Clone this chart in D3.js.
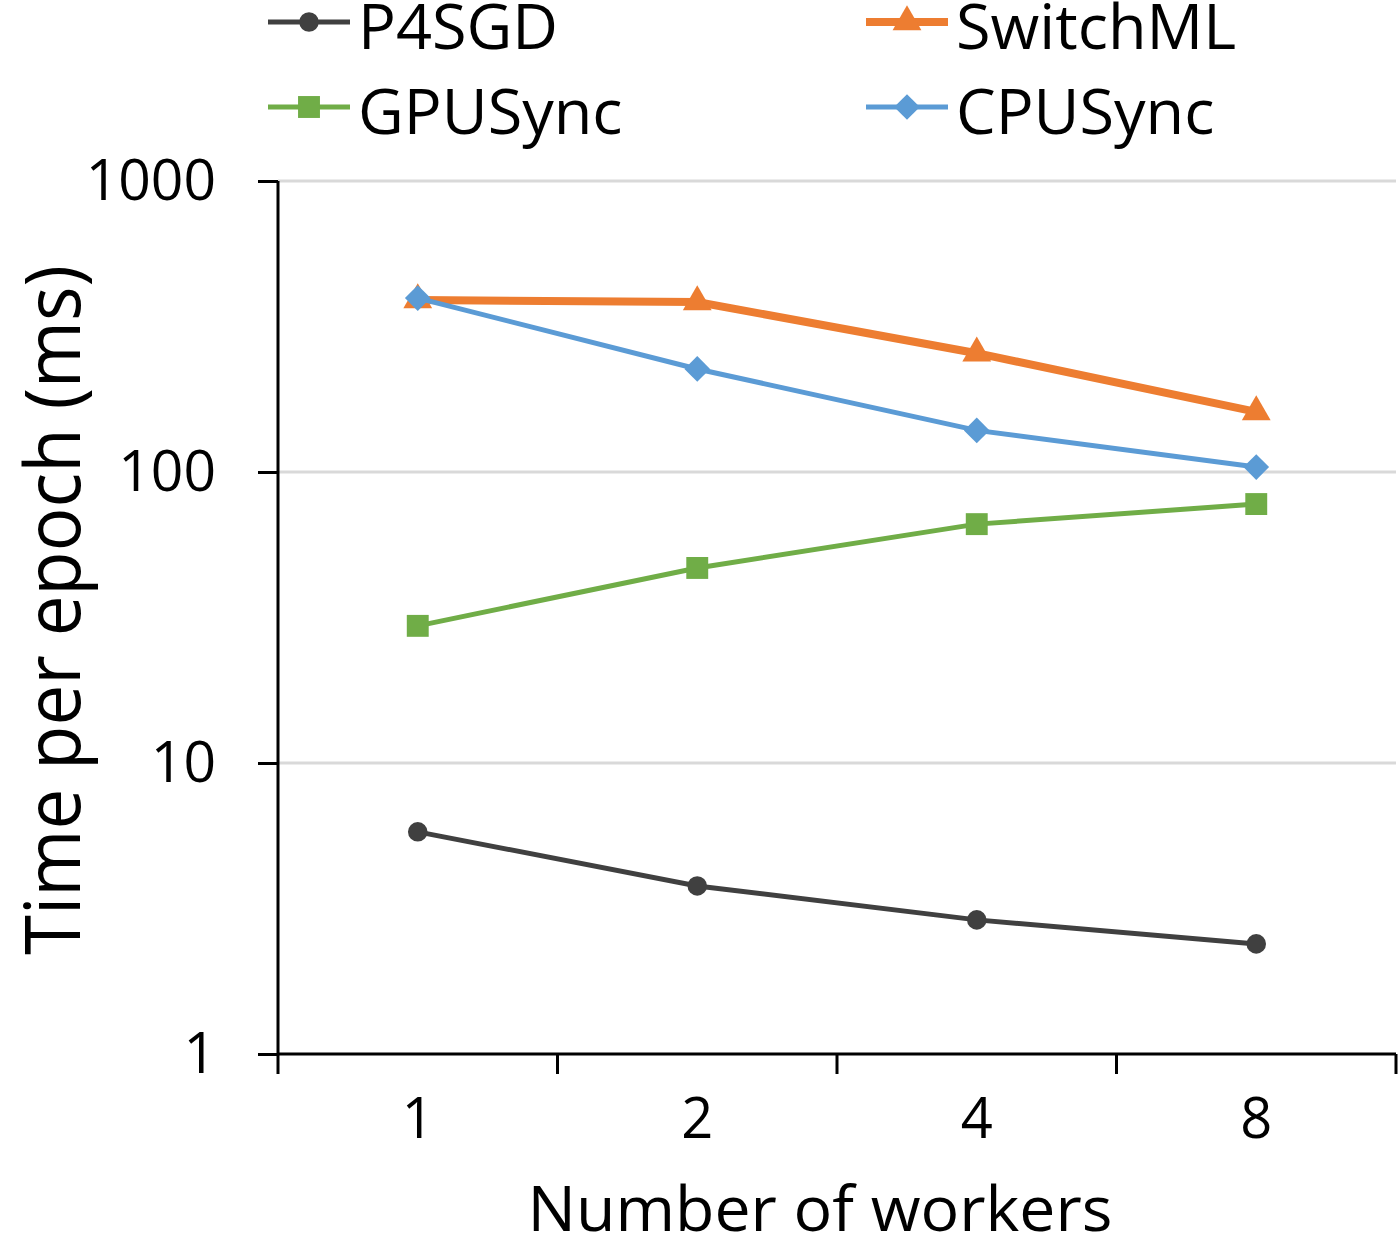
<!DOCTYPE html>
<html>
<head>
<meta charset="utf-8">
<script src="https://cdn.jsdelivr.net/npm/d3@7"></script>
<style>
  body { margin: 0; background: #fff; }
  svg { display: block; }
  .txt { font-family: "Open Sans", sans-serif; fill: #000; }
</style>
</head>
<body>
<svg id="chart" width="1399" height="1242"></svg>
<script>
// data
const workers = ['1', '2', '4', '8']
const seriesNames = ['P4SGD', 'SwitchML', 'GPUSync', 'CPUSync']
const p4sgd = [5.8, 3.78, 2.89, 2.39]
const switchML = [390, 384, 256, 161]
const gpuSync = [29.6, 46.8, 66.2, 77.6]
const cpuSync = [396, 226, 139, 104]
const yTicks = [1, 10, 100, 1000]

const series = [
  { name: 'GPUSync', values: gpuSync, color: '#70ad47', width: 5, marker: 'square' },
  { name: 'P4SGD', values: p4sgd, color: '#404040', width: 5, marker: 'circle' },
  { name: 'SwitchML', values: switchML, color: '#ed7d31', width: 8, marker: 'triangle' },
  { name: 'CPUSync', values: cpuSync, color: '#5b9bd5', width: 5, marker: 'diamond' },
]

const plot = { left: 278, right: 1396, top: 181, bottom: 1054 }
const svg = d3.select('#chart')

const x = d3.scaleBand().domain(workers).range([plot.left, plot.right])
const y = d3.scaleLog().domain([1, 1000]).range([plot.bottom, plot.top])

/**
 * marker path by type, centered at 0,0
 */
function markerPath (type) {
  if (type === 'square') return d3.symbol(d3.symbolSquare, 480)()
  if (type === 'circle') return d3.symbol(d3.symbolCircle, 300)()
  if (type === 'triangle') return d3.symbol(d3.symbolTriangle, 360)()
  return d3.symbol(d3.symbolDiamond2, 420)()
}

// gridlines
svg.append('g')
  .selectAll('line')
  .data(yTicks.filter(d => d > 1))
  .join('line')
  .attr('x1', plot.left).attr('x2', plot.right)
  .attr('y1', d => y(d)).attr('y2', d => y(d))
  .attr('stroke', '#d9d9d9').attr('stroke-width', 3)

// y axis
const yAxis = svg.append('g')
  .attr('transform', `translate(${plot.left},0)`)
  .call(d3.axisLeft(y).tickValues(yTicks).tickFormat(d3.format('d')).tickSize(20).tickPadding(42))
yAxis.select('.domain').attr('stroke', '#000').attr('stroke-width', 3).attr('d', `M0,${plot.top}V${plot.bottom}`)
yAxis.selectAll('.tick line').attr('stroke', '#000').attr('stroke-width', 3)
yAxis.selectAll('.tick text').attr('class', 'txt').attr('font-size', 57).attr('fill', '#000')

// x axis
const xAxis = svg.append('g')
  .attr('transform', `translate(0,${plot.bottom})`)
  .call(d3.axisBottom(x).tickSize(0).tickPadding(44))
xAxis.select('.domain').attr('stroke', '#000').attr('stroke-width', 3).attr('d', `M${plot.left},0H${plot.right}`)
xAxis.selectAll('.tick text').attr('class', 'txt').attr('font-size', 56).attr('fill', '#000')
xAxis.selectAll('.sep')
  .data(d3.range(workers.length + 1))
  .join('line')
  .attr('x1', i => plot.left + i * x.step()).attr('x2', i => plot.left + i * x.step())
  .attr('y1', 0).attr('y2', 20)
  .attr('stroke', '#000').attr('stroke-width', 3)

// axis titles
svg.append('text').attr('class', 'txt')
  .attr('x', 820).attr('y', 1231)
  .attr('text-anchor', 'middle').attr('font-size', 62)
  .attr('textLength', 585).attr('lengthAdjust', 'spacingAndGlyphs')
  .text('Number of workers')
svg.append('text').attr('class', 'txt')
  .attr('transform', `translate(80,610) rotate(-90)`)
  .attr('text-anchor', 'middle').attr('font-size', 76)
  .attr('textLength', 690).attr('lengthAdjust', 'spacingAndGlyphs')
  .text('Time per epoch (ms)')

// lines and markers
const line = d3.line()
  .x((d, i) => x(workers[i]) + x.bandwidth() / 2)
  .y(d => y(d))

series.forEach((s) => {
  const g = svg.append('g')
  g.append('path')
    .attr('d', line(s.values))
    .attr('fill', 'none')
    .attr('stroke', s.color)
    .attr('stroke-width', s.width)
  g.selectAll('path.m')
    .data(s.values)
    .join('path')
    .attr('class', 'm')
    .attr('d', markerPath(s.marker))
    .attr('transform', (d, i) => `translate(${x(workers[i]) + x.bandwidth() / 2},${y(d)})`)
    .attr('fill', s.color)
})

// legend
const legendPos = {
  P4SGD: [268, 22],
  SwitchML: [866, 22],
  GPUSync: [268, 107],
  CPUSync: [866, 107],
}
seriesNames.forEach((name) => {
  const s = series.find(d => d.name === name)
  const [lx, ly] = legendPos[name]
  const g = svg.append('g').attr('transform', `translate(${lx},${ly})`)
  g.append('line')
    .attr('x1', 0).attr('x2', 82).attr('y1', 0).attr('y2', 0)
    .attr('stroke', s.color).attr('stroke-width', s.width)
  g.append('path')
    .attr('d', markerPath(s.marker))
    .attr('transform', 'translate(41,0)')
    .attr('fill', s.color)
  g.append('text').attr('class', 'txt')
    .attr('x', 90).attr('y', 27)
    .attr('font-size', 63)
    .text(name)
})
</script>
</body>
</html>
